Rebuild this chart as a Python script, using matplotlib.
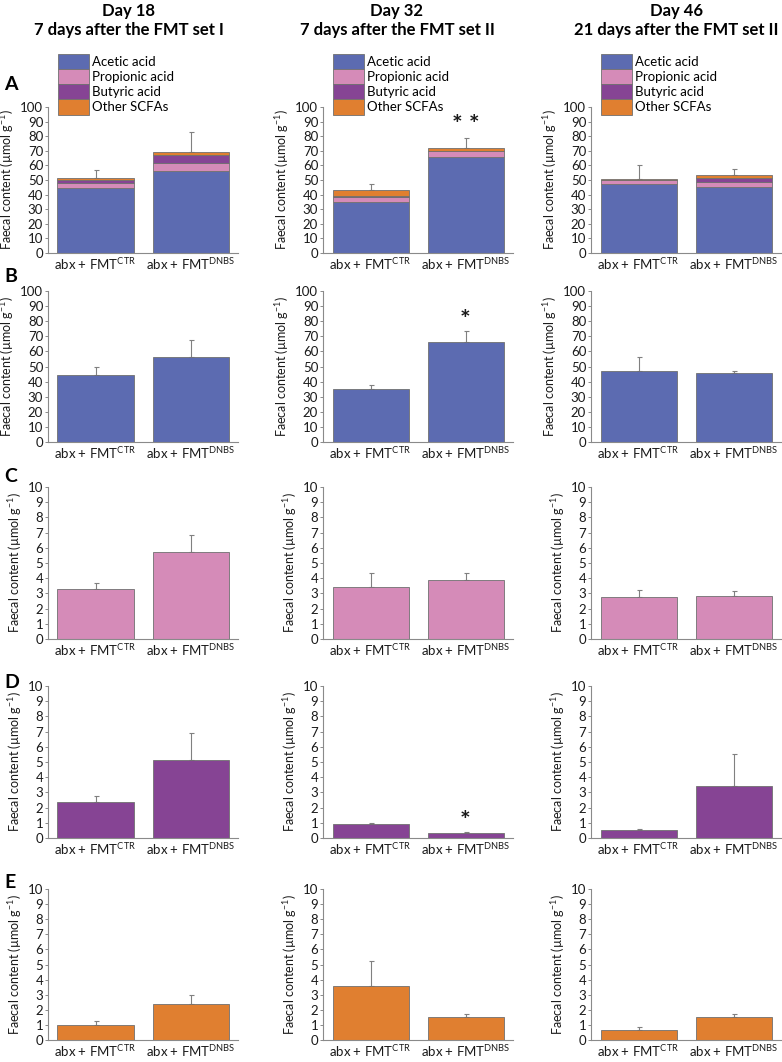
import numpy as np
import matplotlib.pyplot as plt

plt.rcParams['font.family'] = ['Lato', 'DejaVu Sans']
plt.rcParams['mathtext.fontset'] = 'custom'
plt.rcParams['mathtext.rm'] = 'Lato'
plt.rcParams['mathtext.it'] = 'Lato:italic'
plt.rcParams['mathtext.bf'] = 'Lato:bold'

groups = ['abx + FMT$^{\\mathrm{CTR}}$', 'abx + FMT$^{\\mathrm{DNBS}}$']
days = ['Day 18\n7 days after the FMT set I',
        'Day 32\n7 days after the FMT set II',
        'Day 46\n21 days after the FMT set II']
acids = ['Acetic acid', 'Propionic acid', 'Butyric acid', 'Other SCFAs']
colors = ['#5c6bb1', '#d58bb8', '#864494', '#e07f30']

# values per day (day 18, 32, 46), each [CTR, DNBS]
acetic = [[44.5, 56.0], [35.0, 66.0], [47.0, 45.5]]
acetic_err = [[5.2, 11.3], [2.7, 7.2], [9.5, 1.8]]
propionic = [[3.3, 5.75], [3.4, 3.85], [2.75, 2.8]]
propionic_err = [[0.4, 1.1], [0.95, 0.5], [0.45, 0.35]]
butyric = [[2.35, 5.1], [0.9, 0.3], [0.5, 3.4]]
butyric_err = [[0.4, 1.8], [0.1, 0.12], [0.07, 2.1]]
other = [[1.0, 2.4], [3.6, 1.5], [0.65, 1.5]]
other_err = [[0.25, 0.55], [1.65, 0.2], [0.2, 0.22]]
total_err = [[5.8, 13.3], [4.1, 6.9], [9.6, 4.5]]

# significance marks: (row, day, group, label, y)
sig = [(0, 1, 1, '* *', 87), (1, 1, 1, '*', 80.5), (3, 1, 1, '*', 1.1)]

series = [acetic, propionic, butyric, other]
series_err = [acetic_err, propionic_err, butyric_err, other_err]
letters = ['A', 'B', 'C', 'D', 'E']

W, H = 782, 1062
fig = plt.figure(figsize=(W / 100, H / 100), dpi=100)

col_x = [48, 323, 591]
col_w = 190
rows_px = [(107, 253), (291, 442), (487, 639), (686, 838), (889, 1040)]
letter_y = [84, 276, 477, 682, 882]
title_x = [129, 397, 676]

edge = '#707070'
axis_c = '#8a8a8a'
x = np.arange(2)


def style(ax, ymax, step):
    ax.set_xlim(-0.5, 1.5)
    ax.set_ylim(0, ymax)
    ax.set_yticks(np.arange(0, ymax + step / 2, step))
    ax.set_xticks(x)
    ax.set_xticklabels(groups, fontsize=9.5, color='#1a1a1a')
    ax.tick_params(axis='x', length=0, pad=2.5)
    ax.tick_params(axis='y', length=2.5, width=0.7, color=axis_c, pad=1,
                   labelsize=9.5, labelcolor='#1a1a1a')
    for s in ['top', 'right']:
        ax.spines[s].set_visible(False)
    for s in ['left', 'bottom']:
        ax.spines[s].set_color(axis_c)
        ax.spines[s].set_linewidth(0.8)
    ax.set_ylabel('Faecal content (µmol g$^{-1}$)', fontsize=9,
                  labelpad=3, color='#1a1a1a')


def errbar(ax, tops, errs):
    ax.errorbar(x, tops, yerr=[np.zeros(2), errs], fmt='none',
                ecolor='#808080', elinewidth=0.8, capsize=1.8,
                capthick=0.8, zorder=1)


for d in range(3):
    # row A: stacked
    top, bot = rows_px[0]
    axA = fig.add_axes([col_x[d] / W, 1 - bot / H, col_w / W, (bot - top) / H])
    base = np.zeros(2)
    for name, vals, c in zip(acids, series, colors):
        v = np.array(vals[d])
        axA.bar(x, v, 0.8, bottom=base, color=c, edgecolor=edge,
                linewidth=0.6, label=name, zorder=2)
        base = base + v
    errbar(axA, base, np.array(total_err[d]))
    style(axA, 100, 10)
    axA.legend(loc='upper left', bbox_to_anchor=(0.05, 1.365), frameon=False,
               fontsize=9.5, handlelength=2.35, handleheight=1.4,
               labelspacing=0, borderpad=0, borderaxespad=0,
               handletextpad=0.3)
    for (sr, sd, sg, lab, sy) in sig:
        if sr == 0 and sd == d:
            axA.text(x[sg], sy, lab, ha='center', va='center',
                     fontsize=18, fontweight='bold', color='#1a1a1a')

    # rows B-E: single acids
    for r in range(4):
        top, bot = rows_px[r + 1]
        ax = fig.add_axes([col_x[d] / W, 1 - bot / H, col_w / W, (bot - top) / H])
        v = np.array(series[r][d])
        ax.bar(x, v, 0.8, color=colors[r], edgecolor=edge, linewidth=0.6,
               zorder=2)
        errbar(ax, v, np.array(series_err[r][d]))
        if r == 0:
            style(ax, 100, 10)
        else:
            style(ax, 10, 1)
        for (sr, sd, sg, lab, sy) in sig:
            if sr == r + 1 and sd == d:
                ax.text(x[sg], sy, lab, ha='center', va='center',
                        fontsize=18, fontweight='bold', color='#1a1a1a')

    fig.text(title_x[d] / W, 1 - 3 / H, days[d], ha='center', va='top',
             fontsize=12, fontweight='bold', linespacing=1.25)

for r, ly in enumerate(letter_y):
    fig.text(4 / W, 1 - ly / H, letters[r], ha='left', va='center',
             fontsize=14, fontweight='bold')

fig.savefig('out.png', dpi=100)
